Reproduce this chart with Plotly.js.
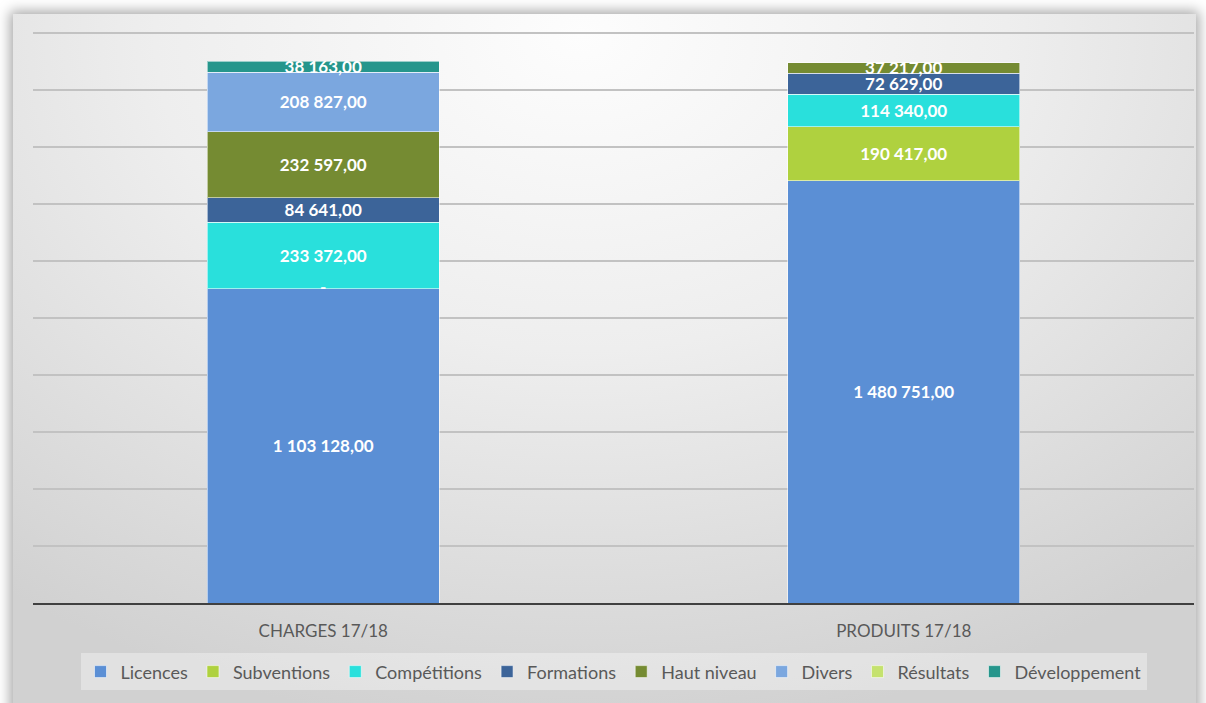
<!DOCTYPE html>
<html><head><meta charset="utf-8">
<script src="https://cdn.plot.ly/plotly-3.0.1.min.js"></script>
<style>
html,body{margin:0;padding:0;background:#fff;overflow:hidden;width:1206px;height:703px;}
#panel{position:absolute;left:13px;top:14px;width:1183px;height:700px;
background:radial-gradient(ellipse 80% 100% at 48% 3%, #fdfdfd 0%, #eeeeee 45%, #d1d1d1 100%);
box-shadow:0 0 12px 3px rgba(0,0,0,0.35);}
#chart{position:absolute;left:0;top:0;width:1206px;height:703px;}
</style></head><body>
<div id="panel"></div><div id="chart"></div>
<script>
const categories = ['CHARGES 17/18', 'PRODUITS 17/18'];
const seriesNames = ['Licences', 'Subventions', 'Compétitions', 'Formations', 'Haut niveau', 'Divers', 'Résultats', 'Développement'];
const licences = [1103128, 1480751];
const subventions = [0, 190417];
const competitions = [233372, 114340];
const formations = [84641, 72629];
const hautNiveau = [232597, 37217];
const divers = [208827, null];
const resultats = [null, null];
const developpement = [38163, null];
const seriesColors = ['#5B8FD5', '#AFD13F', '#29E0DC', '#3C6499', '#758B32', '#7BA7DF', '#C5E26E', '#26968C'];

const seriesValues = [licences, subventions, competitions, formations, hautNiveau, divers, resultats, developpement];

function fmt(v) {
  if (v === null || v === undefined) return '';
  if (v === 0) return '-';
  return String(v).replace(/\B(?=(\d{3})+(?!\d))/g, '\u00a0') + ',00';
}

const labelFont = {family: 'Lato', size: 17, color: '#ffffff', weight: 'bold'};

const traces = seriesValues.map((vals, i) => ({
  type: 'bar',
  name: seriesNames[i],
  x: categories,
  y: vals,
  text: vals.map(v => (v ? fmt(v) : '')),
  textposition: 'inside',
  insidetextanchor: 'middle',
  constraintext: 'none',
  textangle: 0,
  textfont: labelFont,
  marker: {color: seriesColors[i], line: {color: 'rgba(255,255,255,0.55)', width: 1}},
  hoverinfo: 'skip',
  cliponaxis: false
}));

// zero-valued segments get their "-" label at the stack position
const zx = [], zy = [], zt = [];
seriesValues.forEach((vals, i) => {
  vals.forEach((v, c) => {
    if (v === 0) {
      let base = 0;
      for (let k = 0; k < i; k++) base += (seriesValues[k][c] || 0);
      zx.push(categories[c]); zy.push(base); zt.push(fmt(v));
    }
  });
});
traces.push({
  type: 'scatter', mode: 'text', x: zx, y: zy, text: zt,
  textposition: 'middle center', textfont: labelFont,
  showlegend: false, hoverinfo: 'skip', cliponaxis: false
});

const layout = {
  width: 1206, height: 703,
  paper_bgcolor: 'rgba(0,0,0,0)', plot_bgcolor: 'rgba(0,0,0,0)',
  margin: {l: 33, r: 12, t: 30, b: 100},
  barmode: 'stack', bargap: 0.6,
  showlegend: true,
  font: {family: 'Lato', color: '#595959'},
  xaxis: {
    type: 'category', showgrid: false, zeroline: false,
    showline: true, linecolor: '#404040', linewidth: 2,
    ticks: '', tickfont: {family: 'Lato', size: 17, color: '#595959'},
    ticklabelstandoff: 12
  },
  yaxis: {
    range: [0, 2010000], tick0: 0, dtick: 200000, showticklabels: false,
    showgrid: true, gridcolor: '#c2c2c2', gridwidth: 1.3,
    zeroline: false, showline: false, ticks: ''
  },
  legend: {
    orientation: 'h', x: 0.5, xanchor: 'center', y: -0.088, yanchor: 'top',
    bgcolor: 'rgba(255,255,255,0.35)', traceorder: 'normal',
    font: {family: 'Lato', size: 18, color: '#595959'},
    itemclick: false, itemdoubleclick: false
  },
  hovermode: false
};

Plotly.newPlot('chart', traces, layout, {displayModeBar: false, staticPlot: true});
</script>
</body></html>
